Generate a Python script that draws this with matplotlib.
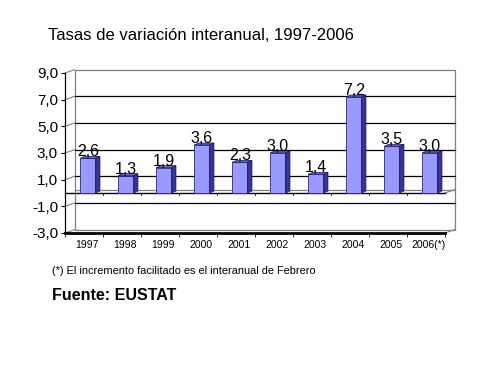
import matplotlib.pyplot as plt
from matplotlib.patches import Polygon, Rectangle

plt.rcParams['font.family'] = ['Liberation Sans', 'DejaVu Sans']

years = ['1997', '1998', '1999', '2000', '2001', '2002', '2003', '2004', '2005', '2006(*)']
values = [2.6, 1.3, 1.9, 3.6, 2.3, 3.0, 1.4, 7.2, 3.5, 3.0]
value_labels = [f"{v:.1f}".replace('.', ',') for v in values]
yticks = [-3, -1, 1, 3, 5, 7, 9]
ytick_labels = [f"{v:.1f}".replace('.', ',') for v in yticks]

fig = plt.figure(figsize=(4.86, 3.71), dpi=100)
ax = fig.add_axes([65 / 486, 1 - 233 / 371, 380 / 486, 160 / 371])
ax.set_xlim(-0.5, 9.5)
ax.set_ylim(-3, 9)

# fake 3d: back wall offset
dx, dy = 0.25, 0.25
x0, x1 = -0.5, 9.5
ax.add_patch(Rectangle((x0 + dx, -3 + dy), x1 - x0, 12, fill=False,
                       edgecolor='#808080', lw=0.9, clip_on=False, zorder=1))
for y in yticks[1:-1]:
    ax.plot([x0 + dx, x1 + dx], [y + dy, y + dy], color='black', lw=0.9,
            clip_on=False, zorder=1)
for y in yticks:
    ax.plot([x0, x0 + dx], [y, y + dy], color='#808080', lw=0.8,
            clip_on=False, zorder=1)

# floor at zero
ax.plot([x0 + dx, x1 + dx], [dy, dy], color='#808080', lw=0.9, clip_on=False, zorder=1)
ax.plot([x0, x1], [0, 0], color='black', lw=1.0, clip_on=False, zorder=2)
ax.plot([x1, x1 + dx], [0, dy], color='#808080', lw=0.8, clip_on=False, zorder=1)
ax.plot([x1, x1 + dx], [-3, -3 + dy], color='#808080', lw=0.8, clip_on=False, zorder=1)
for b in range(11):
    ax.plot([b - 0.5, b - 0.5], [0, -0.18], color='black', lw=0.6, zorder=2)

# bars
w, bdx, bdy, shift = 0.4, 0.12, 0.15, 0.1
xs = [i + shift for i in range(len(values))]
ax.bar(xs, values, width=w, color='#9999ff', edgecolor='#2b2b7a', lw=0.6, zorder=3)
for x, v, lab in zip(xs, values, value_labels):
    r = x + w / 2
    l = x - w / 2
    ax.add_patch(Polygon([(r, 0), (r + bdx, bdy), (r + bdx, v + bdy), (r, v)],
                         closed=True, facecolor='#333399', edgecolor='#1a1a55',
                         lw=0.5, zorder=3))
    ax.add_patch(Polygon([(l, v), (l + bdx, v + bdy), (r + bdx, v + bdy), (r, v)],
                         closed=True, facecolor='#6666cc', edgecolor='#1a1a55',
                         lw=0.5, zorder=3))
    ax.text(x, v + 0.15, lab, ha='center', va='baseline', fontsize=11.5, zorder=4)

# axes
for s in ['top', 'right']:
    ax.spines[s].set_visible(False)
ax.spines['left'].set_linewidth(0.9)
ax.spines['bottom'].set_linewidth(2.0)
ax.set_yticks(yticks)
ax.set_yticklabels(ytick_labels, fontsize=11)
ax.tick_params(axis='y', length=3, width=0.8, pad=2)
ax.set_xticks([i + 0.08 for i in range(len(years))])
ax.set_xticklabels(years, fontsize=7.5)
ax.tick_params(axis='x', length=0, pad=5)
ax.set_xticks([b - 0.5 for b in range(11)], minor=True)
ax.tick_params(axis='x', which='minor', length=3, width=0.6)

fig.text(48 / 486, 1 - 36 / 371, 'Tasas de variación interanual, 1997-2006',
         fontsize=12, ha='left', va='center')
fig.text(52 / 486, 1 - 271 / 371, '(*) El incremento facilitado es el interanual de Febrero',
         fontsize=7.9, ha='left', va='center')
fig.text(52 / 486, 1 - 296 / 371, 'Fuente: EUSTAT', fontsize=11.5, fontweight='bold',
         ha='left', va='center')

fig.savefig('out.png', dpi=100)
